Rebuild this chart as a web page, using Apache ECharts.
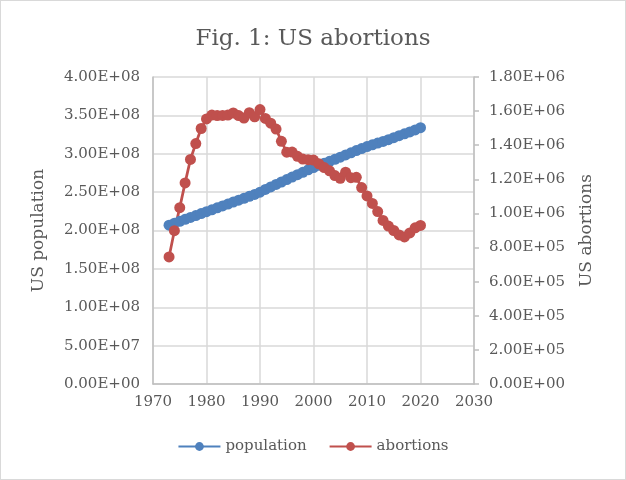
<!DOCTYPE html>
<html lang="en">
<head>
    <meta charset="UTF-8">
    <title>Fig. 1: US abortions</title>
    <script src="https://cdn.jsdelivr.net/npm/echarts@6/dist/echarts.min.js"></script>
    <style>
        html, body { margin: 0; padding: 0; background: #fff; }
        #chart {
            width: 626px;
            height: 480px;
            box-sizing: border-box;
            border: 1px solid #d9d9d9;
        }
    </style>
</head>
<body>
<div id="chart"></div>

<script>
    // years 1973 .. 2020
    const years = [
        1973, 1974, 1975, 1976, 1977, 1978, 1979, 1980, 1981, 1982,
        1983, 1984, 1985, 1986, 1987, 1988, 1989, 1990, 1991, 1992,
        1993, 1994, 1995, 1996, 1997, 1998, 1999, 2000, 2001, 2002,
        2003, 2004, 2005, 2006, 2007, 2008, 2009, 2010, 2011, 2012,
        2013, 2014, 2015, 2016, 2017, 2018, 2019, 2020
    ];

    // US population, millions
    const population = [
        207.0, 209.5, 212.0, 214.5, 217.0, 219.5, 222.0, 224.5, 227.0, 229.5,
        232.0, 234.5, 237.0, 239.5, 242.0, 244.5, 247.0, 250.0, 253.5, 256.8,
        260.0, 263.2, 266.4, 269.6, 272.8, 275.8, 279.0, 282.0, 285.0, 287.6,
        290.1, 292.8, 295.5, 298.4, 301.2, 304.1, 306.8, 309.3, 311.6, 313.9,
        316.1, 318.4, 321.0, 323.5, 326.0, 328.5, 331.0, 334.0
    ];

    // US abortions, thousands
    const abortions = [
        745, 899, 1034, 1179, 1317, 1410, 1498, 1554, 1577, 1574,
        1575, 1577, 1589, 1574, 1559, 1591, 1567, 1609, 1557, 1529,
        1495, 1423, 1359, 1360, 1335, 1319, 1315, 1313, 1291, 1269,
        1250, 1222, 1206, 1242, 1210, 1212, 1152, 1103, 1059, 1011,
        959, 926, 900, 874, 862, 886, 916, 930
    ];

    const FONT = 'DejaVu Serif';
    const GREY = '#595959';

    // 4.00E+08 style labels
    function sci(v) {
        if (v === 0) return '0.00E+00';
        const s = v.toExponential(2).toUpperCase();
        return s.replace(/E([+-])(\d)$/, 'E$10$2');
    }

    const chart = echarts.init(document.getElementById('chart'));

    chart.setOption({
        animation: false,
        textStyle: { fontFamily: FONT, color: GREY },
        title: {
            text: 'Fig. 1: US abortions',
            left: 'center',
            top: 22,
            textStyle: { fontFamily: FONT, fontWeight: 'normal', fontSize: 23, color: GREY }
        },
        legend: {
            bottom: 20,
            left: 'center',
            itemWidth: 42,
            itemHeight: 11,
            itemGap: 22,
            textStyle: { fontFamily: FONT, fontSize: 15, color: GREY },
            data: ['population', 'abortions']
        },
        grid: { left: 152, right: 151, top: 76, bottom: 95 },
        xAxis: {
            type: 'value',
            min: 1970,
            max: 2030,
            interval: 10,
            axisLine: { lineStyle: { color: '#bfbfbf', width: 1.5 } },
            axisTick: { show: false },
            axisLabel: { fontFamily: FONT, fontSize: 15, color: GREY, margin: 11, formatter: v => String(v) },
            splitLine: { show: true, lineStyle: { color: '#d9d9d9', width: 1.5 } }
        },
        yAxis: [
            {
                type: 'value',
                min: 0,
                max: 4e8,
                interval: 5e7,
                name: 'US population',
                nameLocation: 'middle',
                nameGap: 106,
                nameRotate: 90,
                nameTextStyle: { fontFamily: FONT, fontSize: 17, color: GREY },
                axisLine: { show: true, lineStyle: { color: '#bfbfbf', width: 1.5 } },
                axisTick: { show: false },
                axisLabel: { fontFamily: FONT, fontSize: 15, color: GREY, margin: 13, formatter: sci },
                splitLine: { show: true, lineStyle: { color: '#d9d9d9', width: 1.5 } }
            },
            {
                type: 'value',
                min: 0,
                max: 1.8e6,
                interval: 2e5,
                position: 'right',
                name: 'US abortions',
                nameLocation: 'middle',
                nameGap: 104,
                nameRotate: 90,
                nameTextStyle: { fontFamily: FONT, fontSize: 17, color: GREY },
                axisLine: { show: true, lineStyle: { color: '#bfbfbf', width: 1.5 } },
                axisTick: { show: true, length: 5, lineStyle: { color: '#bfbfbf', width: 1.5 } },
                axisLabel: { fontFamily: FONT, fontSize: 15, color: GREY, margin: 15, formatter: sci },
                splitLine: { show: false }
            }
        ],
        series: [
            {
                name: 'population',
                type: 'line',
                yAxisIndex: 0,
                symbol: 'circle',
                symbolSize: 11,
                color: '#4f81bd',
                lineStyle: { width: 2.75 },
                data: years.map((y, i) => [y, population[i] * 1e6])
            },
            {
                name: 'abortions',
                type: 'line',
                yAxisIndex: 1,
                symbol: 'circle',
                symbolSize: 11,
                color: '#c0504d',
                lineStyle: { width: 2.75 },
                data: years.map((y, i) => [y, abortions[i] * 1e3])
            }
        ]
    });
</script>
</body>
</html>
